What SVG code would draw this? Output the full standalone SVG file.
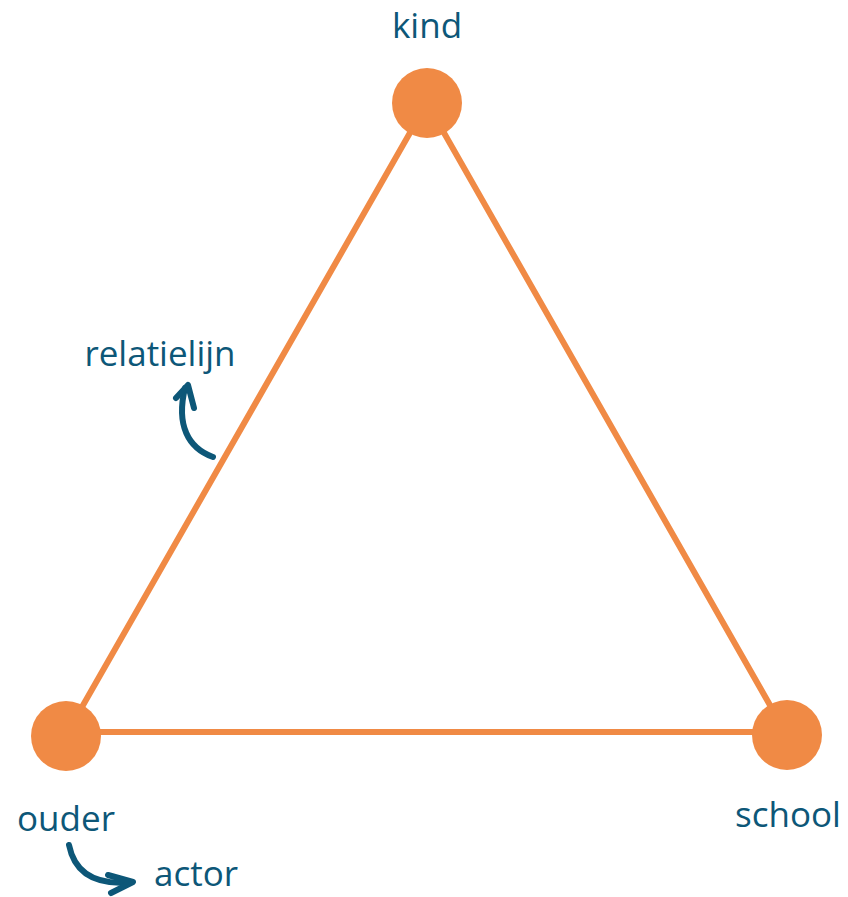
<svg xmlns="http://www.w3.org/2000/svg" width="848" height="897" viewBox="0 0 848 897">
<style>
.edge{stroke:#f08a45;stroke-width:6;fill:none;stroke-linecap:round}
.node{fill:#f08a45}
.lbl{font-family:"Open Sans","Lato",sans-serif;font-size:35px;font-weight:500;fill:#0d5778}
.hand{stroke:#0d5778;stroke-width:6;fill:none;stroke-linecap:round;stroke-linejoin:round}
</style>
<rect width="848" height="897" fill="#ffffff"/>
<g id="connectors">
<line class="edge" x1="427" y1="103" x2="66" y2="735"/>
<line class="edge" x1="427" y1="103" x2="787" y2="735"/>
<line class="edge" x1="66" y1="732" x2="787" y2="732"/>
</g>
<g id="kind"><circle class="node" cx="427" cy="103" r="35"/><text class="lbl" x="427" y="38" text-anchor="middle">kind</text></g>
<g id="ouder"><circle class="node" cx="66" cy="736" r="35"/><text class="lbl" x="66" y="831" text-anchor="middle">ouder</text></g>
<g id="school"><circle class="node" cx="787" cy="735" r="35"/><text class="lbl" x="788" y="827" text-anchor="middle">school</text></g>
<g id="relatielijn-label"><text class="lbl" x="160" y="366" text-anchor="middle">relatielijn</text>
<path class="hand" d="M213,457 C188,448 176,425 185,388"/>
<path class="hand" d="M176,398 L188,385 L194,408"/></g>
<g id="actor-label"><text class="lbl" x="196" y="886" text-anchor="middle">actor</text>
<path class="hand" d="M69,845 C74,870 92,886 132,882"/>
<path class="hand" d="M108,875 L133,882 L111,893"/></g>
</svg>
